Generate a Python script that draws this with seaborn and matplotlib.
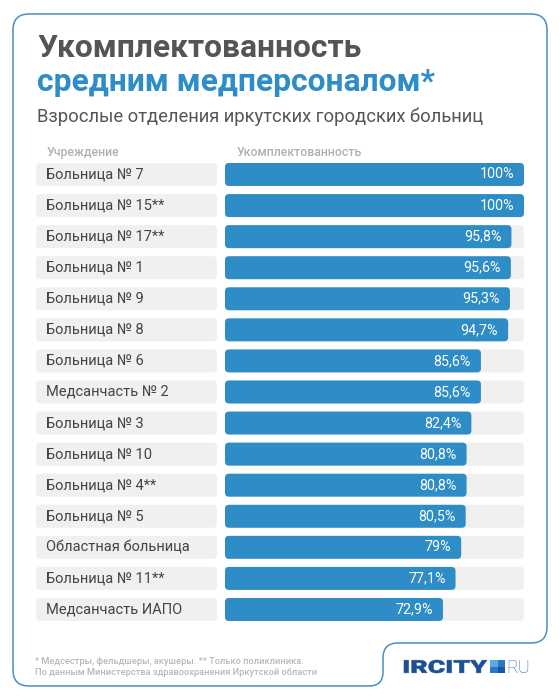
import matplotlib
matplotlib.use("Agg")
import matplotlib.pyplot as plt
import seaborn as sns
import numpy as np
from matplotlib.patches import FancyBboxPatch, PathPatch, Rectangle
from matplotlib.path import Path
from matplotlib.textpath import TextPath
from matplotlib.font_manager import FontProperties
from matplotlib.transforms import Affine2D

# data
names = ["Больница № 7", "Больница № 15**", "Больница № 17**", "Больница № 1",
         "Больница № 9", "Больница № 8", "Больница № 6", "Медсанчасть № 2",
         "Больница № 3", "Больница № 10", "Больница № 4**", "Больница № 5",
         "Областная больница", "Больница № 11**", "Медсанчасть ИАПО"]
values = [100, 100, 95.8, 95.6, 95.3, 94.7, 85.6, 85.6, 82.4, 80.8, 80.8, 80.5, 79, 77.1, 72.9]
value_labels = ["100%", "100%", "95,8%", "95,6%", "95,3%", "94,7%", "85,6%", "85,6%",
                "82,4%", "80,8%", "80,8%", "80,5%", "79%", "77,1%", "72,9%"]
track = [100] * len(names)

title1 = "Укомплектованность"
title2 = "средним медперсоналом*"
subtitle = "Взрослые отделения иркутских городских больниц"
col_head1 = "Учреждение"
col_head2 = "Укомплектованность"
foot1 = "* Медсестры, фельдшеры, акушеры. ** Только поликлиника."
foot2 = "По данным Министерства здравоохранения Иркутской области"

BLUE = "#2e8dc6"
GRAY_TXT = "#555555"
BOX = "#f0f0f0"

sns.set_style("white")
plt.rcParams['font.family'] = ['Roboto', 'DejaVu Sans']

W, H = 560, 700
fig = plt.figure(figsize=(W / 100, H / 100), dpi=100)
fig.patch.set_facecolor("white")

# overlay axes in pixel coordinates
ax0 = fig.add_axes([0, 0, 1, 1])
ax0.set_xlim(0, W)
ax0.set_ylim(H, 0)
ax0.axis("off")

# frame with notch for the logo
L, T, R, B1, B, r = 13, 14, 547, 643, 686, 16
verts = [(L + r, T), (R - r, T), (R, T), (R, T + r), (R, B1 - r), (R, B1), (R - r, B1),
         (398, B1), (383, B1), (383, B1 + 15), (383, B - 14), (383, B), (369, B),
         (L + r, B), (L, B), (L, B - r), (L, T + r), (L, T), (L + r, T)]
codes = [Path.MOVETO, Path.LINETO, Path.CURVE3, Path.CURVE3, Path.LINETO, Path.CURVE3, Path.CURVE3,
         Path.LINETO, Path.CURVE3, Path.CURVE3, Path.LINETO, Path.CURVE3, Path.CURVE3,
         Path.LINETO, Path.CURVE3, Path.CURVE3, Path.LINETO, Path.CURVE3, Path.CURVE3]
ax0.add_patch(PathPatch(Path(verts, codes), fill=False, edgecolor="#4b8fc0", lw=1.1))

# titles
ax0.text(37, 57, title1, fontsize=22.9, fontweight="bold", color=GRAY_TXT, va="baseline")
ax0.text(37, 91, title2, fontsize=22.9, fontweight="bold", color=BLUE, va="baseline")
ax0.text(37, 122, subtitle, fontsize=13.2, color=GRAY_TXT, va="baseline")
ax0.text(47, 156, col_head1, fontsize=8.8, fontweight="medium", color="#b0b0b0", va="baseline")
ax0.text(237, 156, col_head2, fontsize=8.8, fontweight="medium", color="#b0b0b0", va="baseline")

# footer
ax0.text(35, 664, foot1, fontsize=6.7, fontweight="medium", color="#b8b8b8", va="baseline")
ax0.text(35, 675, foot2, fontsize=6.7, fontweight="medium", color="#b8b8b8", va="baseline")

# logo: stretched heavy wordmark
tp = TextPath((0, 0), "IRCITY", size=10, prop=FontProperties(family="Roboto", weight="black"))
ext = tp.get_extents()
sx = 83 / ext.width
sy = 13 / ext.height
logo = Affine2D().translate(-ext.x0, -ext.y0).scale(sx, -sy).translate(404, 673).transform_path(tp)
ax0.add_patch(PathPatch(logo, facecolor="#1e4f95", edgecolor="#1e4f95", lw=0.4))
ax0.add_patch(Rectangle((490, 660), 7.5, 6.5, color="#5aaae6", lw=0))
ax0.add_patch(Rectangle((497.5, 660), 7.5, 6.5, color="#2a78c8", lw=0))
ax0.add_patch(Rectangle((490, 666.5), 7.5, 6.5, color="#2a78c8", lw=0))
ax0.add_patch(Rectangle((497.5, 666.5), 7.5, 6.5, color="#1d55a5", lw=0))
ax0.text(506, 673, "RU", fontsize=13, fontweight="light", color="#2f6fb8", va="baseline")

# bar axes: 0..100 maps to x pixels 225..524
px_per_unit = (524 - 225) / 100
xmin = -(225 - 36) / px_per_unit
pitch = 31.07
top = 174.5 - pitch / 2
bottom = 174.5 + 14 * pitch + pitch / 2
ax = fig.add_axes([36 / W, 1 - bottom / H, (524 - 36) / W, (bottom - top) / H])
ax.patch.set_alpha(0)

sns.barplot(x=track, y=names, orient="h", color=BOX, width=0.74, ax=ax, saturation=1)
sns.barplot(x=values, y=names, orient="h", color=BLUE, width=0.74, ax=ax, saturation=1)
box_left = xmin
box_w = (217 - 36) / px_per_unit
ax.barh(np.arange(len(names)), box_w, left=box_left, height=0.74, color=BOX)

ax.set_xlim(xmin, 100)
ax.set_ylim(len(names) - 0.5, -0.5)
ax.axis("off")

# round the bars
aspect = px_per_unit / pitch
for p in list(ax.patches):
    x, y = p.get_x(), p.get_y()
    w, h = p.get_width(), p.get_height()
    fc = p.get_facecolor()
    z = 2 if fc[2] < 0.9 else 1
    p.remove()
    ax.add_patch(FancyBboxPatch((x, y), w, h, boxstyle="round,pad=0,rounding_size=%f" % (4 / px_per_unit),
                                mutation_aspect=aspect, facecolor=fc, edgecolor="none", zorder=z))

for i, (n, v, lab) in enumerate(zip(names, values, value_labels)):
    ax.text(box_left + 10 / px_per_unit, i, n, fontsize=10.5, color="#444444", va="center", zorder=3)
    ax.text(v - 10 / px_per_unit, i, lab, fontsize=10.3, color="white", va="center", ha="right", zorder=3)

fig.savefig("out.png", dpi=100)
